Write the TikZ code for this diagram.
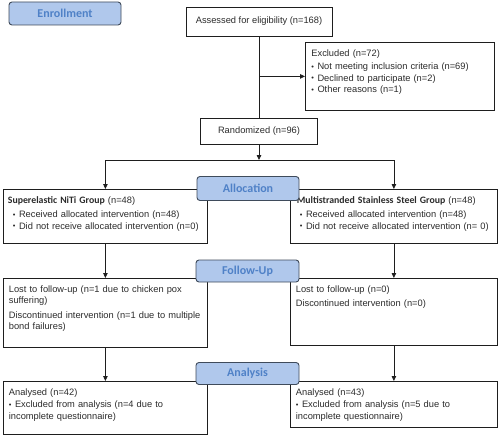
\documentclass[tikz,border=0pt]{standalone}
\usepackage{fontspec}
\setmainfont{Liberation Sans}
\newfontfamily\calfont{Carlito}
\usepackage{xcolor}
\usetikzlibrary{arrows.meta}
\definecolor{ink}{HTML}{1E1E1E}
\definecolor{txt}{HTML}{2B2B2B}
\definecolor{stagefill}{HTML}{B0C8EC}
\definecolor{stageline}{HTML}{3F4B5B}
\definecolor{stagetext}{HTML}{4F81C7}
\newcommand{\bul}{\raisebox{0.6pt}{\scalebox{0.8}{\textbullet}}\hspace{3.5pt}}
\newcommand{\grp}[1]{{\calfont\bfseries\fontsize{9.8}{11.5}\selectfont #1}}
\tikzset{
  box/.style={draw=ink, line width=0.8pt, text=txt, align=left, anchor=north west,
    inner xsep=4.5pt, inner ysep=5pt, text height=9pt,
    font=\fontsize{9.3}{11.5}\selectfont},
  cbox/.style={draw=ink, line width=0.8pt, text=txt, align=center,
    inner sep=0pt, font=\fontsize{9.3}{11.5}\selectfont},
  stage/.style={draw=stageline, fill=stagefill, rounded corners=3pt, line width=0.9pt,
    text=stagetext, inner sep=0pt, font=\calfont\bfseries\fontsize{12}{14}\selectfont},
  link/.style={draw=ink, line width=0.8pt},
  arr/.style={link, -{Triangle[length=5pt,width=4.5pt]}},
}
\begin{document}
\begin{tikzpicture}[x=1pt,y=-1pt]
  \useasboundingbox (0,0) rectangle (500,436);
  % enrollment
  \node[stage, minimum width=112pt, minimum height=23pt] (enroll) at (65,13.5) {Enrollment};
  \node[cbox, minimum width=146pt, minimum height=29pt] (assess) at (259,21.5) {Assessed for eligibility (n=168)};
  \node[box, text width=177pt, text depth=49pt, inner xsep=6pt] (excl) at (305,42)
    {Excluded (n=72)\\[2pt]
     \bul Not meeting inclusion criteria (n=69)\\
     \bul Declined to participate (n=2)\\
     \bul Other reasons (n=1)};
  \node[cbox, minimum width=117pt, minimum height=26pt] (rand) at (259,131) {Randomized (n=96)};
  \coordinate (split) at (259,160);
  \draw[link] (assess) -- (rand);
  \draw[arr] (assess.south |- excl.west) -- (excl.west);
  \draw[arr] (rand) -- (split);
  % allocation
  \node[box, text width=195pt, text depth=35pt] (grpL) at (3,189)
    {\grp{Superelastic NiTi Group} (n=48)\\[3pt]
     \hspace*{5pt}\bul Received allocated intervention (n=48)\\
     \hspace*{5pt}\bul Did not receive allocated intervention (n=0)};
  \node[box, text width=194pt, text depth=35pt, inner xsep=6.5pt] (grpR) at (290,189)
    {\grp{Multistranded Stainless Steel Group} (n=48)\\[3pt]
     \hspace*{3pt}\bul Received allocated intervention (n=48)\\
     \hspace*{3pt}\bul Did not receive allocated intervention (n= 0)};
  \draw[link] (split -| grpL.north) -- (split -| grpR.north);
  \draw[arr] (split -| grpL.north) -- (grpL.north);
  \draw[arr] (split -| grpR.north) -- (grpR.north);
  \node[stage, minimum width=102pt, minimum height=24pt] (alloc) at (248,188.5) {Allocation};
  % follow-up
  \node[box, text width=193pt, text depth=50pt, inner xsep=5.5pt] (fuL) at (3,278)
    {Lost to follow-up (n=1 due to chicken pox\\
     suffering)\\[3pt]
     Discontinued intervention (n=1 due to multiple\\
     bond failures)};
  \node[box, text width=196pt, text depth=48pt, inner xsep=5.5pt] (fuR) at (290,278)
    {Lost to follow-up (n=0)\\[3pt]
     Discontinued intervention (n=0)};
  \draw[arr] (grpL) -- (fuL);
  \draw[arr] (grpR) -- (fuR);
  \node[stage, minimum width=103pt, minimum height=22pt] (fulab) at (247.5,271) {Follow-Up};
  % analysis
  \node[box, text width=193pt, text depth=34pt, inner xsep=5.5pt] (anL) at (3,381)
    {Analysed (n=42)\\[1pt]
     \bul Excluded from analysis (n=4 due to\\
     incomplete questionnaire)};
  \node[box, text width=196pt, text depth=27pt, inner xsep=5.5pt] (anR) at (290,381)
    {Analysed (n=43)\\[1pt]
     \bul Excluded from analysis (n=5 due to\\
     incomplete questionnaire)};
  \draw[arr] (fuL) -- (anL);
  \draw[arr] (fuR) -- (anR);
  \node[stage, minimum width=103pt, minimum height=22pt] (anlab) at (247.5,373.5) {Analysis};
\end{tikzpicture}
\end{document}
